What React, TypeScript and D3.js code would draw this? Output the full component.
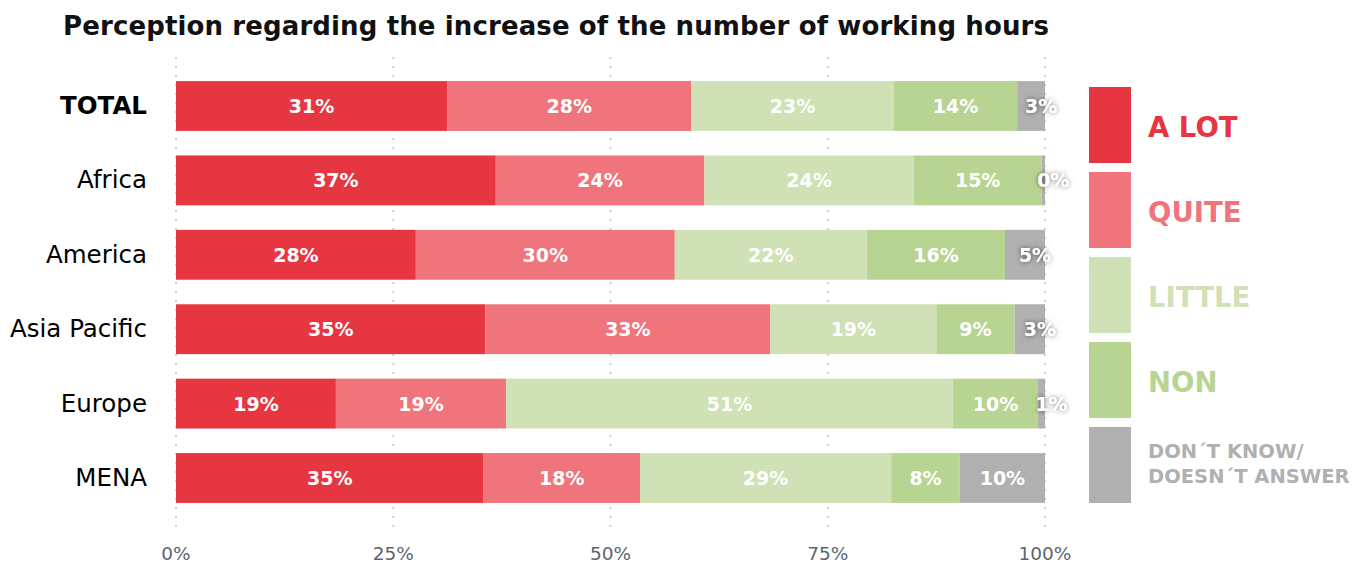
import { useMemo } from "react";
import * as d3 from "d3";

const categories = ["TOTAL", "Africa", "America", "Asia Pacific", "Europe", "MENA"];
const seriesNames = ["A LOT", "QUITE", "LITTLE", "NON", "DON´T KNOW/\nDOESN´T ANSWER"];
const seriesColors = ["#e63642", "#ef747b", "#cfe1b5", "#b8d492", "#b0b0b0"];

// shares as drawn (bar widths)
const aLot = [31.2, 36.8, 27.6, 35.6, 18.4, 35.4];
const quite = [28.1, 24.0, 29.8, 32.8, 19.6, 18.0];
const little = [23.3, 24.1, 22.1, 19.1, 51.4, 28.9];
const non = [14.2, 14.7, 15.9, 9.0, 9.8, 7.9];
const dontKnow = [3.2, 0.4, 4.6, 3.5, 0.8, 9.8];

// printed labels
const aLotLabels = [31, 37, 28, 35, 19, 35];
const quiteLabels = [28, 24, 30, 33, 19, 18];
const littleLabels = [23, 24, 22, 19, 51, 29];
const nonLabels = [14, 15, 16, 9, 10, 8];
const dontKnowLabels = [3, 0, 5, 3, 1, 10];

const xTicks = [0, 25, 50, 75, 100];

const WIDTH = 1357;
const HEIGHT = 565;
const FONT = "'DejaVu Sans', 'Noto Sans', sans-serif";

export default function App() {
  const series = [aLot, quite, little, non, dontKnow];
  const labels = [aLotLabels, quiteLabels, littleLabels, nonLabels, dontKnowLabels];

  const xScale = useMemo(
    () => d3.scaleLinear().domain([0, 100]).range([176, 1045]),
    [],
  );
  const yScale = useMemo(
    () =>
      d3
        .scaleBand()
        .domain(categories)
        .range([68.8, 515.2])
        .paddingInner(0.33)
        .paddingOuter(0.165),
    [],
  );

  const segments = useMemo(() => {
    const rows = categories.map((name, i) => {
      const row: Record<string, number | string> = { name };
      series.forEach((s, k) => (row[`s${k}`] = s[i]));
      return row;
    });
    const stack = d3.stack<Record<string, number | string>>().keys(series.map((_, k) => `s${k}`));
    return stack(rows as any).flatMap((layer, k) =>
      layer.map((d, i) => ({
        key: `${k}-${i}`,
        k,
        cat: categories[i],
        x0: xScale(d[0]),
        x1: xScale(d[1]),
        label: `${labels[k][i]}%`,
      })),
    );
  }, [xScale]);

  const bw = yScale.bandwidth();

  return (
    <svg
      width={WIDTH}
      height={HEIGHT}
      style={{ position: "absolute", left: 0, top: 0, fontFamily: FONT }}
    >
      <defs>
        <filter id="shadow" x="-50%" y="-50%" width="200%" height="200%">
          <feDropShadow dx="0" dy="0" stdDeviation="2.5" floodColor="#000" floodOpacity="0.55" />
        </filter>
      </defs>

      {/* Title */}
      <text x={63} y={35} fontSize={26} fontWeight={700} fill="#111" textLength={986}>
        Perception regarding the increase of the number of working hours
      </text>

      {/* Grid */}
      {xTicks.map((t) => (
        <line
          key={t}
          x1={xScale(t)}
          x2={xScale(t)}
          y1={57}
          y2={529}
          stroke="#d0d0d0"
          strokeWidth={2}
          strokeDasharray="2,7"
        />
      ))}
      {xTicks.map((t) => (
        <text
          key={`t${t}`}
          x={xScale(t)}
          y={560}
          textAnchor="middle"
          fontSize={18.5}
          fill="#5b6470"
        >
          {t}%
        </text>
      ))}

      {/* Categories */}
      {categories.map((c) => (
        <text
          key={c}
          x={147}
          y={(yScale(c) ?? 0) + bw / 2 + 8}
          textAnchor="end"
          fontSize={24.5}
          fontWeight={c === "TOTAL" ? 700 : 400}
          fill="#000"
        >
          {c}
        </text>
      ))}

      {/* Bars */}
      {segments.map((s) => (
        <rect
          key={s.key}
          x={s.x0}
          y={yScale(s.cat)}
          width={Math.max(0, s.x1 - s.x0)}
          height={bw}
          fill={seriesColors[s.k]}
        />
      ))}
      {segments.map((s) => {
        const small = s.x1 - s.x0 < 45;
        return (
          <text
            key={`l${s.key}`}
            x={(s.x0 + s.x1) / 2 + (small ? 10 : 0)}
            y={(yScale(s.cat) ?? 0) + bw / 2 + 7}
            textAnchor="middle"
            fontSize={19}
            fontWeight={700}
            fill="#fff"
            filter={small ? "url(#shadow)" : undefined}
          >
            {s.label}
          </text>
        );
      })}

      {/* Legend */}
      {seriesNames.map((n, k) => {
        const top = 87 + k * 85;
        const lines = n.split("\n");
        return (
          <g key={n}>
            <rect x={1089} y={top} width={42} height={76} fill={seriesColors[k]} />
            {lines.length === 1 ? (
              <text x={1148} y={top + 50} fontSize={27.5} fontWeight={700} fill={seriesColors[k]}>
                {n}
              </text>
            ) : (
              lines.map((l, j) => (
                <text
                  key={l}
                  x={1148}
                  y={top + 31 + j * 25}
                  fontSize={19.5}
                  fontWeight={700}
                  fill={seriesColors[k]}
                >
                  {l}
                </text>
              ))
            )}
          </g>
        );
      })}
    </svg>
  );
}
